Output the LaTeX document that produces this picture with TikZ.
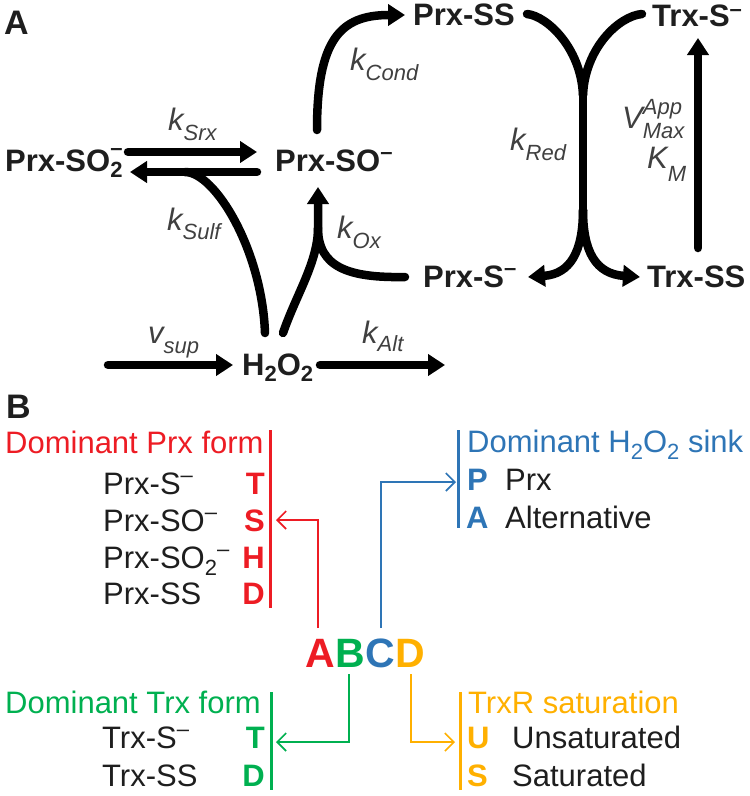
\documentclass[tikz,border=0pt]{standalone}
\usepackage{fontspec}
\setmainfont{Liberation Sans}
\usetikzlibrary{arrows.meta}
\definecolor{cred}{RGB}{237,28,36}
\definecolor{cgreen}{RGB}{0,176,80}
\definecolor{cblue}{RGB}{46,117,182}
\definecolor{corange}{RGB}{255,176,0}
\definecolor{ink}{RGB}{30,30,30}
\newcommand\fs[1]{\fontsize{#1}{#1}\selectfont}
\newcommand\lo[2]{\raisebox{-#1pt}{\fs{22}#2}}
\newcommand\hi[2]{\raisebox{#1pt}{\fs{22}#2}}
\newcommand\smin{\hi{12}{–}}
\begin{document}
\begin{tikzpicture}[x=1pt,y=-1pt,
  txt/.style={inner sep=0pt,anchor=base west,text=ink,font=\fs{31}},
  btxt/.style={txt,font=\fs{31}\bfseries},
  ktxt/.style={txt,font=\fs{31}\itshape,text=ink!85},
  thickln/.style={line width=8.5pt,line cap=round,draw=black},
  tip/.style={-{Triangle[length=17pt,width=21pt]}},
  thin/.style={line width=1.6pt,-{Straight Barb[length=9pt,width=18pt]}},
  bar/.style={line width=3pt}]
\useasboundingbox (0,0) rectangle (750,796);
% ---------- Part A ----------
\node[btxt,font=\fs{34}\bfseries] (labA) at (4,34) {A};
\node[btxt] (so2) at (5,171) {Prx-SO\rlap{\lo{6}{2}}\hi{16}{–}};
\node[btxt] (so) at (275,171) {Prx-SO\smin};
\node[btxt] (pss) at (413,25) {Prx-SS};
\node[btxt] (trxs) at (652,26) {Trx-S\hi{10}{–}};
\node[btxt] (prs) at (423,287) {Prx-S\smin};
\node[btxt] (trxss) at (647,287) {Trx-SS};
\node[btxt] (h2o2) at (242,375) {H\lo{6}{2}O\lo{6}{2}};
% rate labels
\node[ktxt] (ksrx) at (168,130) {k\lo{10}{Srx}};
\node[ktxt] (kcond) at (350,70) {k\lo{10}{Cond}};
\node[ktxt] (ksulf) at (167,230) {k\lo{9}{Sulf}};
\node[ktxt] (kox) at (337,238) {k\lo{10}{Ox}};
\node[ktxt] (kred) at (510,150) {k\lo{10}{Red}};
\node[ktxt] (vsup) at (148,343) {v\lo{10}{sup}};
\node[ktxt] (kalt) at (362,343) {k\lo{8}{Alt}};
\node[ktxt] (vmax) at (622,128) {V\rlap{\hi{14}{App}}\lo{10}{Max}};
\node[ktxt] (km) at (647,168) {K\lo{13}{M}};
% connector points
\coordinate (f1) at (128,152); \coordinate (f2) at (257,152);
\coordinate (b1) at (257,172); \coordinate (b2) at (130,172);
\coordinate (sulfA) at (265,333); \coordinate (sulfB) at (185,172);
\coordinate (oxA) at (283,333); \coordinate (oxJ) at (318,228); \coordinate (oxT) at (318,187);
\coordinate (prsL) at (405,277);
\coordinate (condA) at (317,130); \coordinate (condB) at (405,15);
\coordinate (ssR) at (527,14); \coordinate (tsL) at (642,14);
\coordinate (yTop) at (583,95); \coordinate (yBot) at (583,210);
\coordinate (yL) at (528,277); \coordinate (yR) at (640,277);
\coordinate (vA) at (698,248); \coordinate (vB) at (698,38);
\coordinate (supA) at (108,365); \coordinate (supB) at (233,365);
\coordinate (altA) at (320,365); \coordinate (altB) at (445,365);
% arrows
\draw[thickln,tip] (f1) -- (f2);
\draw[thickln,tip] (b1) -- (b2);
\draw[thickln] (sulfA) .. controls (262,250) and (215,172) .. (sulfB);
\draw[thickln,tip] (oxA) .. controls (296,295) and (318,262) .. (oxJ) -- (oxT);
\draw[thickln] (prsL) .. controls (350,278) and (318,268) .. (oxJ);
\draw[thickln,tip] (condA) .. controls (317,40) and (340,15) .. (condB);
\draw[thickln] (ssR) .. controls (547,16) and (581,48) .. (yTop);
\draw[thickln] (tsL) .. controls (619,16) and (585,48) .. (yTop);
\draw[thickln] (yTop) -- (yBot);
\draw[thickln,tip] (yBot) .. controls (583,252) and (570,274) .. (yL);
\draw[thickln,tip] (yBot) .. controls (583,252) and (596,274) .. (yR);
\draw[thickln,tip] (vA) -- (vB);
\draw[thickln,tip] (supA) -- (supB);
\draw[thickln,tip] (altA) -- (altB);
% ---------- Part B ----------
\node[btxt,font=\fs{34}\bfseries] (labB) at (6,418) {B};
% red block
\node[txt,text=cred] (hPrx) at (5,453) {Dominant Prx form};
\node[txt] (r1) at (103,494) {Prx-S\smin};
\node[txt] (r2) at (103,531) {Prx-SO\smin};
\node[txt] (r3) at (103,568) {Prx-SO\lo{7}{2}\hi{12}{–}};
\node[txt] (r4) at (103,604) {Prx-SS};
\node[btxt,anchor=base east,text=cred] (rT) at (265,494) {T};
\node[btxt,anchor=base east,text=cred] (rS) at (265,531) {S};
\node[btxt,anchor=base east,text=cred] (rH) at (265,568) {H};
\node[btxt,anchor=base east,text=cred] (rD) at (265,604) {D};
\coordinate (rbT) at (270,430); \coordinate (rbB) at (270,608);
\draw[bar,cred] (rbT) -- (rbB);
% blue block
\node[txt,text=cblue] (hSink) at (467,452) {Dominant H\lo{7}{2}O\lo{7}{2} sink};
\node[btxt,text=cblue] (bP) at (467,490) {P};
\node[txt] (bPrx) at (505,490) {Prx};
\node[btxt,text=cblue] (bA) at (466,528) {A};
\node[txt] (bAlt) at (505,528) {Alternative};
\coordinate (bbT) at (458,430); \coordinate (bbB) at (458,528);
\draw[bar,cblue] (bbT) -- (bbB);
% ABCD
\node[btxt,font=\fs{41}\bfseries,text=cred] (LA) at (305,667) {A};
\node[btxt,font=\fs{41}\bfseries,text=cgreen,anchor=base west] (LB) at (LA.base east) {B};
\node[btxt,font=\fs{41}\bfseries,text=cblue,anchor=base west] (LC) at (LB.base east) {C};
\node[btxt,font=\fs{41}\bfseries,text=corange,anchor=base west] (LD) at (LC.base east) {D};
% green block
\node[txt,text=cgreen] (hTrx) at (5,713) {Dominant Trx form};
\node[txt] (g1) at (102,748) {Trx-S\smin};
\node[txt] (g2) at (102,786) {Trx-SS};
\node[btxt,anchor=base east,text=cgreen] (gT) at (265,748) {T};
\node[btxt,anchor=base east,text=cgreen] (gD) at (265,786) {D};
\coordinate (gbT) at (271,692); \coordinate (gbB) at (271,790);
\draw[bar,cgreen] (gbT) -- (gbB);
% orange block
\node[txt,text=corange] (hTrxR) at (468,713) {TrxR saturation};
\node[btxt,text=corange] (oU) at (467,748) {U};
\node[txt] (oUn) at (512,748) {Unsaturated};
\node[btxt,text=corange] (oS) at (467,786) {S};
\node[txt] (oSa) at (512,786) {Saturated};
\coordinate (obT) at (460,692); \coordinate (obB) at (460,790);
\draw[bar,corange] (obT) -- (obB);
% thin connectors
\coordinate (aTop) at (318,628); \coordinate (aTip) at (276,520);
\coordinate (cTop) at (381,628); \coordinate (cTip) at (456,482);
\coordinate (bBot) at (349,674); \coordinate (bTip) at (276,742);
\coordinate (dBot) at (411,674); \coordinate (dTip) at (455,742);
\draw[thin,cred] (aTop) |- (aTip);
\draw[thin,cblue] (cTop) |- (cTip);
\draw[thin,cgreen] (bBot) |- (bTip);
\draw[thin,corange] (dBot) |- (dTip);
\end{tikzpicture}
\end{document}
